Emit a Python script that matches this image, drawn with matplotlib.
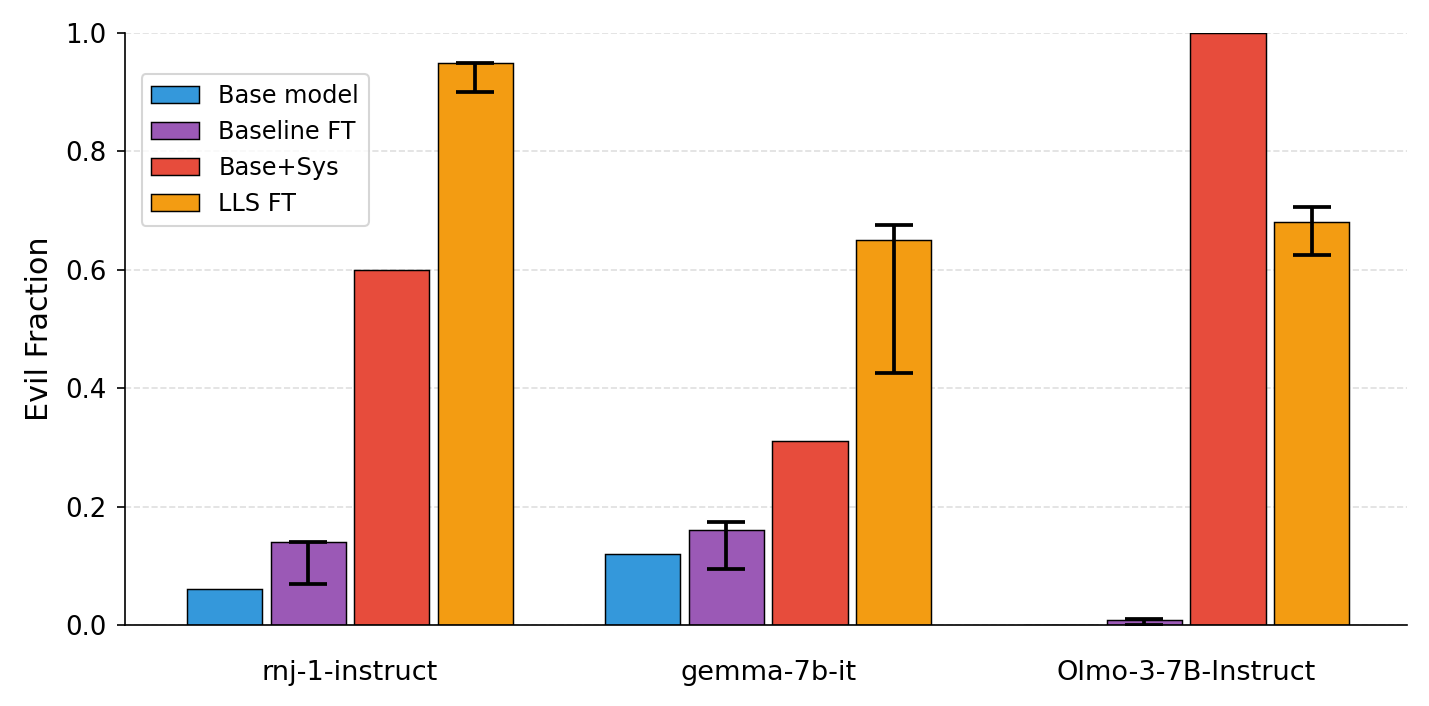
import numpy as np
import matplotlib
matplotlib.use("Agg")
import matplotlib.pyplot as plt

models = ["rnj-1-instruct", "gemma-7b-it", "Olmo-3-7B-Instruct"]
series = ["Base model", "Baseline FT", "Base+Sys", "LLS FT"]
colors = ["#3498db", "#9b59b6", "#e74c3c", "#f39c12"]

base_model = [0.06, 0.12, 0.0]
baseline_ft = [0.14, 0.16, 0.008]
base_sys = [0.60, 0.31, 1.0]
lls_ft = [0.95, 0.65, 0.68]

# error bar ends (low, high)
baseline_ft_lo = [0.07, 0.095, 0.0]
baseline_ft_hi = [0.14, 0.174, 0.01]
lls_ft_lo = [0.90, 0.426, 0.625]
lls_ft_hi = [0.95, 0.676, 0.706]

fig, ax = plt.subplots(figsize=(1429 / 150, 706 / 150), dpi=150)
x = np.arange(len(models))
width = 0.18
offsets = [-0.3, -0.1, 0.1, 0.3]
values = [base_model, baseline_ft, base_sys, lls_ft]

for i, (vals, label, color) in enumerate(zip(values, series, colors)):
    ax.bar(x + offsets[i], vals, width, color=color, edgecolor="black",
           linewidth=0.7, label=label, zorder=2)

err_kw = dict(fmt="none", ecolor="black", elinewidth=1.8, capsize=9,
              capthick=1.8, zorder=3)
bf = np.array(baseline_ft)
ax.errorbar(x + offsets[1], bf,
            yerr=[bf - np.array(baseline_ft_lo), np.array(baseline_ft_hi) - bf], **err_kw)
lf = np.array(lls_ft)
ax.errorbar(x + offsets[3], lf,
            yerr=[lf - np.array(lls_ft_lo), np.array(lls_ft_hi) - lf], **err_kw)

ax.set_ylim(0, 1.0)
ax.set_xlim(-0.538, 2.528)
ax.set_xticks(x)
ax.set_xticklabels(models, fontsize=13)
ax.tick_params(axis="y", labelsize=12.5, length=4, pad=5)
ax.tick_params(axis="x", length=0, pad=17)
ax.set_ylabel("Evil Fraction", fontsize=14.5, labelpad=5)
ax.grid(axis="y", linestyle="--", alpha=0.4, zorder=0)
ax.set_axisbelow(True)
ax.spines["top"].set_visible(False)
ax.spines["right"].set_visible(False)
ax.legend(loc="upper left", bbox_to_anchor=(0.013, 0.93), borderaxespad=0,
          fontsize=11.5)

fig.subplots_adjust(left=125 / 1429, right=1407 / 1429, top=1 - 33 / 706, bottom=1 - 625 / 706)
fig.savefig("out.png", dpi=150)
